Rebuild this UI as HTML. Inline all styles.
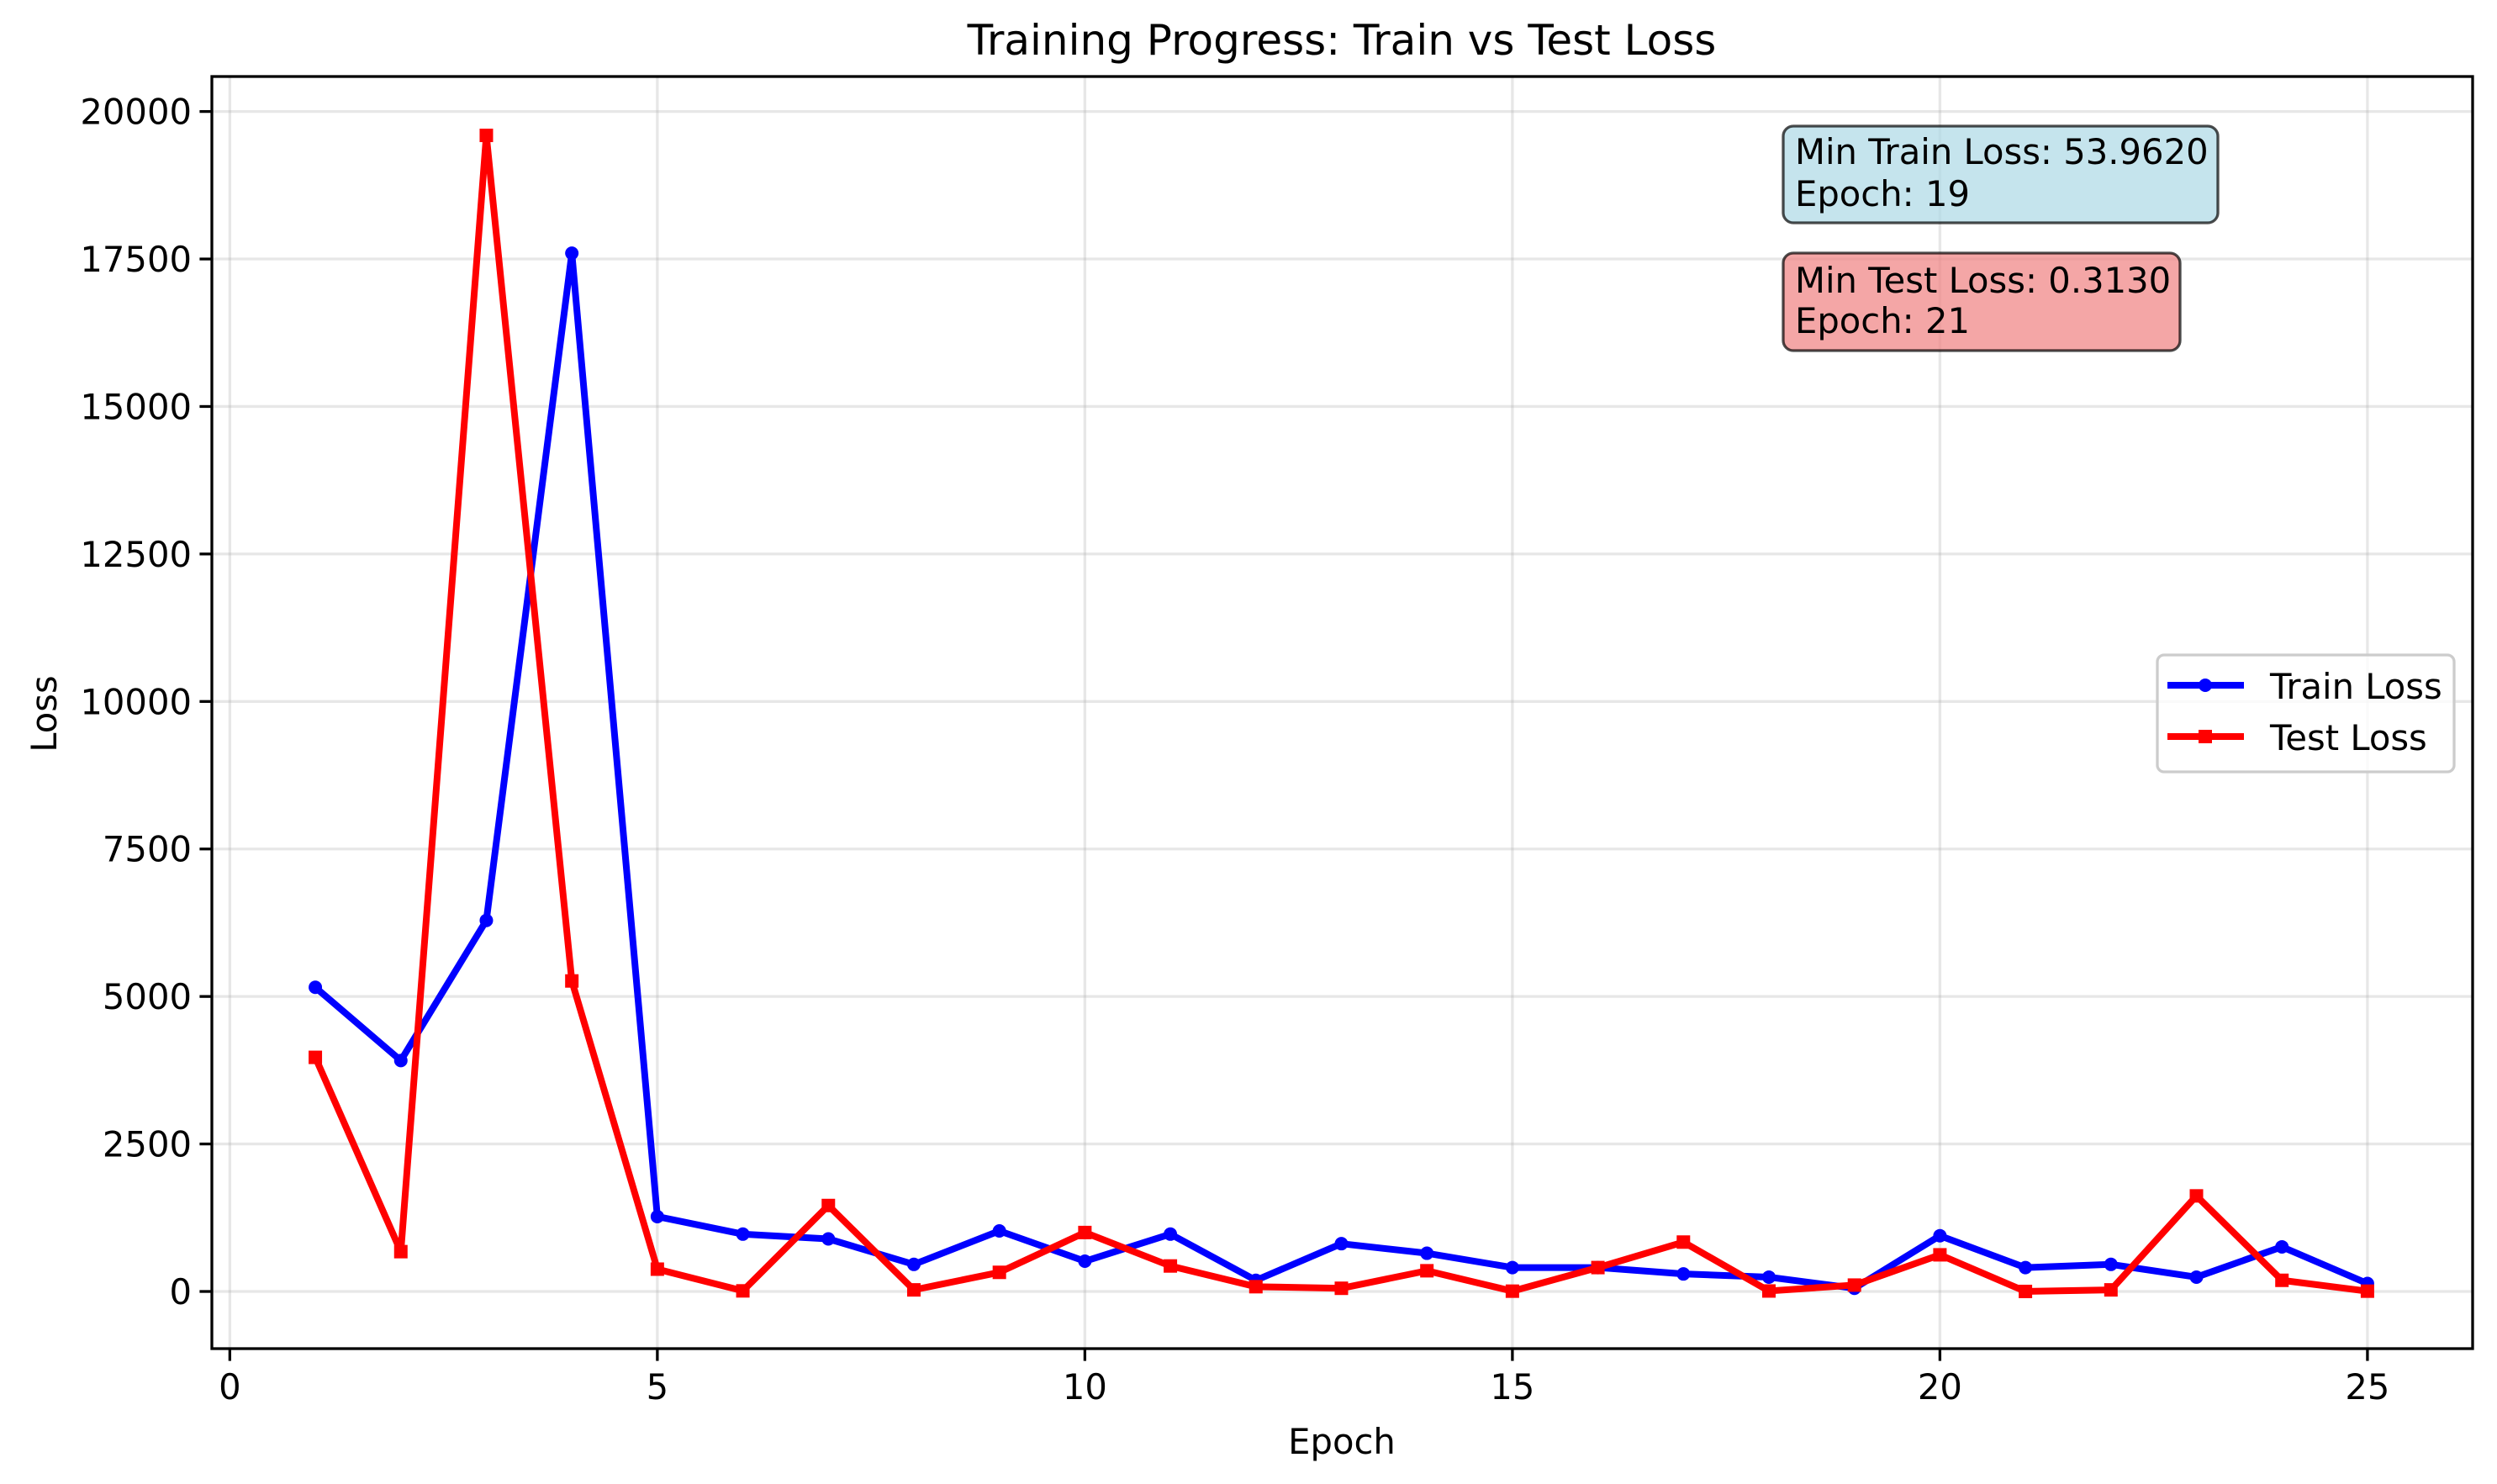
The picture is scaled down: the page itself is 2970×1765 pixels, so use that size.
<!DOCTYPE html>
<html><head><meta charset="utf-8"><style>
html,body{margin:0;padding:0;background:#fff;}
svg{display:block;font-family:"DejaVu Sans","Liberation Sans",sans-serif;}
</style></head><body>
<svg id="chart" xmlns="http://www.w3.org/2000/svg" width="2970" height="1765" viewBox="0 0 2970 1765">
<rect width="2970" height="1765" fill="#fff"/>
<g id="grid"></g>
<g id="series"></g>
<rect x="252" y="91" width="2689" height="1513" fill="none" stroke="#000" stroke-width="3.3"/>
<g id="ticks" font-size="41.7" fill="#000"></g>
<text x="1596" y="65" font-size="50" text-anchor="middle">Training Progress: Train vs Test Loss</text>
<text x="1596" y="1729" font-size="41.7" text-anchor="middle">Epoch</text>
<text x="0" y="0" font-size="41.7" text-anchor="middle" transform="translate(67,849) rotate(-90)">Loss</text>
<g>
<rect x="2121" y="150" width="517" height="115" rx="12" fill="#add8e6" fill-opacity="0.7" stroke="#000" stroke-opacity="0.7" stroke-width="3.3"/>
<text x="2135" y="195" font-size="41.7">Min Train Loss: 53.9620</text>
<text x="2135" y="245" font-size="41.7">Epoch: 19</text>
</g>
<g>
<rect x="2121" y="301" width="472" height="116" rx="12" fill="#f08080" fill-opacity="0.7" stroke="#000" stroke-opacity="0.7" stroke-width="3.3"/>
<text x="2135" y="348" font-size="41.7">Min Test Loss: 0.3130</text>
<text x="2135" y="396" font-size="41.7">Epoch: 21</text>
</g>
<g>
<rect x="2566" y="779" width="353" height="139" rx="8" fill="#fff" fill-opacity="0.8" stroke="#ccc" stroke-width="3.3"/>
<g>
<line x1="2578" y1="815" x2="2669" y2="815" stroke="#00f" stroke-width="8"/>
<circle cx="2623" cy="815" r="8" fill="#00f"/>
<text x="2700" y="831" font-size="41.7">Train Loss</text>
</g>
<g>
<line x1="2578" y1="876" x2="2669" y2="876" stroke="#f00" stroke-width="8"/>
<rect x="2615" y="868" width="16" height="16" fill="#f00"/>
<text x="2700" y="892" font-size="41.7">Test Loss</text>
</g>
</g>
</svg>
<script>
const epochs = [1,2,3,4,5,6,7,8,9,10,11,12,13,14,15,16,17,18,19,20,21,22,23,24,25];
const trainLoss = [5155,3914,6289,17598,1269,972,891,459,1026,513,972,189,810,648,405,405,297,243,54,945,405,459,243,756,135];
const testLoss = [3968,675,19595,5263,378,10,1457,27,324,999,432,81,54,351,5,405,837,8,108,621,0.313,27,1620,189,5];
const xTicks = [0,5,10,15,20,25];
const yTicks = [0,2500,5000,7500,10000,12500,15000,17500,20000];

const L=252,R=2941,T=91,B=1604;
const xMin=-0.21,xMax=26.23,yMin=-969,yMax=20593;
function sx(v){return L+(v-xMin)/(xMax-xMin)*(R-L);}
function sy(v){return B-(v-yMin)/(yMax-yMin)*(B-T);}
const NS="http://www.w3.org/2000/svg";
function mk(tag,attrs,parent){const e=document.createElementNS(NS,tag);for(const k in attrs)e.setAttribute(k,attrs[k]);parent.appendChild(e);return e;}
const grid=document.getElementById('grid'),ticks=document.getElementById('ticks'),series=document.getElementById('series');
xTicks.forEach(t=>{
  const x=sx(t);
  const g=mk('line',{x1:x,y1:T,x2:x,y2:B,stroke:'#b0b0b0','stroke-opacity':0.3,'stroke-width':3.3},grid);
  
  
  const tk=mk('line',{x1:x,y1:B,x2:x,y2:B+14.6,stroke:'#000','stroke-width':3.3},ticks);
  
  
  const lb=mk('text',{x:x,y:B+60,'text-anchor':'middle'},ticks);
  lb.textContent=t;
  
  
});
yTicks.forEach(t=>{
  const y=sy(t);
  const g=mk('line',{x1:L,y1:y,x2:R,y2:y,stroke:'#b0b0b0','stroke-opacity':0.3,'stroke-width':3.3},grid);
  
  
  const tk=mk('line',{x1:L-14.6,y1:y,x2:L,y2:y,stroke:'#000','stroke-width':3.3},ticks);
  
  
  const lb=mk('text',{x:L-24,y:y+15,'text-anchor':'end'},ticks);
  lb.textContent=t;
  
  
});
function drawSeries(vals,color,shape,name){
  const pts=epochs.map((e,i)=>sx(e)+','+sy(vals[i])).join(' ');
  const pl=mk('polyline',{points:pts,fill:'none',stroke:color,'stroke-width':8,'stroke-linejoin':'round'},series);
  
  
  epochs.forEach((e,i)=>{
    let m;
    if(shape==='circle') m=mk('circle',{cx:sx(e),cy:sy(vals[i]),r:8,fill:color},series);
    else m=mk('rect',{x:sx(e)-8,y:sy(vals[i])-8,width:16,height:16,fill:color},series);
    
    
  });
}
drawSeries(trainLoss,'#0000ff','circle','train-loss');
drawSeries(testLoss,'#ff0000','square','test-loss');
</script>
</body></html>
